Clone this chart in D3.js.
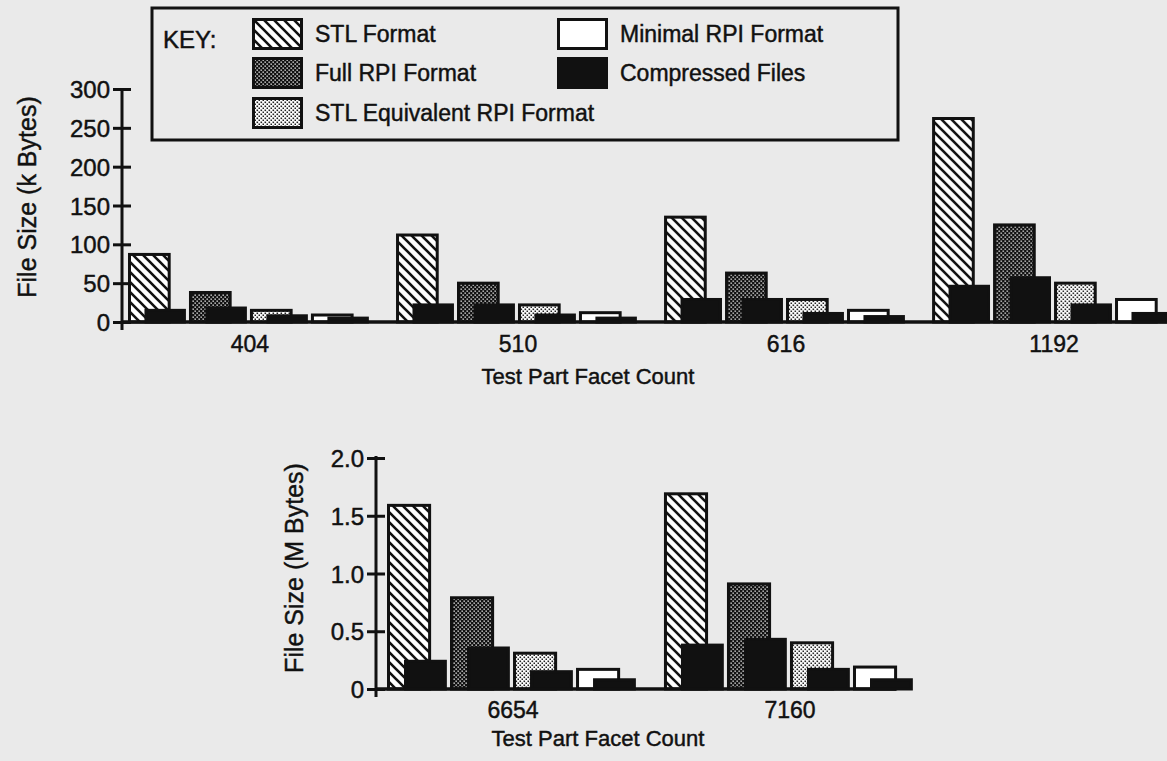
<!DOCTYPE html>
<html>
<head>
<meta charset="utf-8">
<script src="https://cdn.jsdelivr.net/npm/d3@7"></script>
<style>
  body { margin: 0; background: #eaeaea; }
  svg { display: block; font-family: 'Liberation Sans', Arial, Helvetica, sans-serif; fill: #111; }
  svg text { stroke: #111; stroke-width: 0.45px; }
</style>
</head>
<body>
<div id="chart"></div>
<script>
const formats = ['STL Format', 'Full RPI Format', 'STL Equivalent RPI Format', 'Minimal RPI Format'];
const compressedLabel = 'Compressed Files';

// smaller test parts, k Bytes
const smallCounts = ['404', '510', '616', '1192'];
const smallStl = [87, 112, 135, 262];
const smallFull = [38, 50, 63, 125];
const smallEquiv = [15, 22, 29, 50];
const smallMinimal = [9, 12, 15, 29];
const smallStlZip = [15, 22, 29, 46];
const smallFullZip = [18, 22, 29, 57];
const smallEquivZip = [8, 9, 11, 22];
const smallMinimalZip = [5, 5, 7, 11];
const smallTicks = [0, 50, 100, 150, 200, 250, 300];

// larger test parts, M Bytes
const largeCounts = ['6654', '7160'];
const largeStl = [1.59, 1.69];
const largeFull = [0.79, 0.91];
const largeEquiv = [0.31, 0.40];
const largeMinimal = [0.17, 0.19];
const largeStlZip = [0.24, 0.38];
const largeFullZip = [0.355, 0.43];
const largeEquivZip = [0.15, 0.17];
const largeMinimalZip = [0.08, 0.08];
const largeTicks = [0, 0.5, 1.0, 1.5, 2.0];

const ink = '#111';
const fills = ['url(#hatch)', 'url(#dense)', 'url(#light)', '#fff'];

const svg = d3.select('#chart')
    .append('svg')
    .attr('width', 1167)
    .attr('height', 761);

// fill patterns
const defs = svg.append('defs');

const hatch = defs.append('pattern')
    .attr('id', 'hatch')
    .attr('patternUnits', 'userSpaceOnUse')
    .attr('width', 10)
    .attr('height', 10);
hatch.append('rect').attr('width', 10).attr('height', 10).attr('fill', '#fff');
hatch.append('path')
    .attr('d', 'M-5,5L5,15M0,0L10,10M5,-5L15,5')
    .attr('stroke', ink)
    .attr('stroke-width', 2.6);

const dotPattern = (id, bg, dot, size) => {
    const p = defs.append('pattern')
        .attr('id', id)
        .attr('patternUnits', 'userSpaceOnUse')
        .attr('width', 4)
        .attr('height', 4);
    p.append('rect').attr('width', 4).attr('height', 4).attr('fill', bg);
    p.selectAll('.dot')
        .data([[0.5, 0.5], [2.5, 2.5]])
        .enter()
        .append('rect')
        .attr('x', d => d[0])
        .attr('y', d => d[1])
        .attr('width', size)
        .attr('height', size)
        .attr('fill', dot);
};
dotPattern('dense', '#111', '#fff', 1.3);
dotPattern('light', '#fff', '#222', 1.6);

const barChart = (props) => {
    const {
        categories,
        series,
        zips,
        ticks,
        yMax,
        tickFormat,
        xRange,
        yRange,
        axisX,
        axisTop,
        baselineEnd,
        yTitle,
        yTitlePos,
        labelY,
        title,
        titlePos
    } = props;

    const g = svg.append('g');

    const xScale = d3.scaleBand()
        .domain(categories)
        .range(xRange)
        .paddingInner(0.09)
        .paddingOuter(0)
        .align(0);

    const slot = d3.scaleBand()
        .domain(d3.range(series.length))
        .range([0, xScale.bandwidth()]);

    const yScale = d3.scaleLinear()
        .domain([0, yMax])
        .range(yRange);

    const s = slot.bandwidth();

    const groups = g.selectAll('.group')
        .data(categories)
        .enter()
        .append('g')
        .attr('class', 'group')
        .attr('transform', d => `translate(${xScale(d)}, 0)`);

    groups.each(function (cat, i) {
        const grp = d3.select(this);
        series.forEach((values, k) => {
            const v = values[i];
            const z = zips[k][i];
            grp.append('rect')
                .attr('x', slot(k) + 1.5)
                .attr('y', yScale(v))
                .attr('width', s * 0.7 - 3)
                .attr('height', yScale(0) - yScale(v))
                .attr('fill', fills[k])
                .attr('stroke', ink)
                .attr('stroke-width', 3);
            grp.append('rect')
                .attr('x', slot(k) + s * 0.27 + 1.5)
                .attr('y', yScale(z))
                .attr('width', s * 0.68 - 3)
                .attr('height', yScale(0) - yScale(z))
                .attr('fill', ink)
                .attr('stroke', ink)
                .attr('stroke-width', 3);
        });
    });

    // baseline
    g.append('line')
        .attr('x1', axisX)
        .attr('x2', baselineEnd)
        .attr('y1', yScale(0))
        .attr('y2', yScale(0))
        .attr('stroke', ink)
        .attr('stroke-width', 3.5);

    // y axis, ticks crossing the line
    const yAxisGroup = g.append('g')
        .attr('transform', `translate(${axisX}, 0)`)
        .call(d3.axisLeft(yScale)
            .tickValues(ticks)
            .tickSize(9)
            .tickPadding(3)
            .tickFormat(tickFormat));
    yAxisGroup.select('.domain').remove();
    yAxisGroup.selectAll('.tick line')
        .attr('x1', 9)
        .attr('stroke', ink)
        .attr('stroke-width', 3);
    yAxisGroup.selectAll('.tick text')
        .attr('fill', ink)
        .style('font-size', '24px')
        .attr('dy', '0.36em');
    yAxisGroup.append('line')
        .attr('y1', axisTop)
        .attr('y2', yScale(0) + 8)
        .attr('stroke', ink)
        .attr('stroke-width', 3);

    // category labels
    const xAxisGroup = g.append('g')
        .attr('transform', `translate(0, ${labelY})`)
        .call(d3.axisBottom(xScale).tickSize(0).tickPadding(0));
    xAxisGroup.select('.domain').remove();
    xAxisGroup.selectAll('.tick text')
        .attr('fill', ink)
        .attr('dy', 0)
        .style('font-size', '23px');

    g.append('text')
        .attr('x', titlePos[0])
        .attr('y', titlePos[1])
        .attr('text-anchor', 'middle')
        .style('font-size', '22px')
        .text(title);

    g.append('text')
        .attr('transform', `translate(${yTitlePos[0]}, ${yTitlePos[1]}) rotate(-90)`)
        .attr('text-anchor', 'middle')
        .style('font-size', '25px')
        .text(yTitle);
};

barChart({
    categories: smallCounts,
    series: [smallStl, smallFull, smallEquiv, smallMinimal],
    zips: [smallStlZip, smallFullZip, smallEquivZip, smallMinimalZip],
    ticks: smallTicks,
    yMax: 300,
    tickFormat: d => d,
    xRange: [128, 1176],
    yRange: [322, 89],
    axisX: 122,
    axisTop: 88,
    baselineEnd: 1167,
    yTitle: 'File Size (k Bytes)',
    yTitlePos: [36, 197],
    labelY: 352,
    title: 'Test Part Facet Count',
    titlePos: [588, 384]
});

barChart({
    categories: largeCounts,
    series: [largeStl, largeFull, largeEquiv, largeMinimal],
    zips: [largeStlZip, largeFullZip, largeEquivZip, largeMinimalZip],
    ticks: largeTicks,
    yMax: 2,
    tickFormat: d => (d === 0 ? '0' : d3.format('.1f')(d)),
    xRange: [387, 916],
    yRange: [689, 458],
    axisX: 376,
    axisTop: 456,
    baselineEnd: 896,
    yTitle: 'File Size (M Bytes)',
    yTitlePos: [303, 568],
    labelY: 718,
    title: 'Test Part Facet Count',
    titlePos: [598, 746]
});

// key box
const legend = svg.append('g');
legend.append('rect')
    .attr('x', 152)
    .attr('y', 8)
    .attr('width', 746)
    .attr('height', 132)
    .attr('fill', 'none')
    .attr('stroke', ink)
    .attr('stroke-width', 3);
legend.append('text')
    .attr('x', 163)
    .attr('y', 48)
    .style('font-size', '24px')
    .text('KEY:');

const legendItems = formats.concat([compressedLabel]);
const legendFills = fills.concat([ink]);
const legendCols = [252, 557];
const legendRows = [18, 57, 97];

legendItems.forEach((label, i) => {
    const col = i < 3 ? 0 : 1;
    const row = i < 3 ? i : i - 3;
    const item = legend.append('g')
        .attr('transform', `translate(${legendCols[col]}, ${legendRows[row]})`);
    item.append('rect')
        .attr('x', 1.5)
        .attr('y', 1.5)
        .attr('width', 48)
        .attr('height', 29)
        .attr('fill', legendFills[i])
        .attr('stroke', ink)
        .attr('stroke-width', 3);
    item.append('text')
        .attr('x', 63)
        .attr('y', 24)
        .style('font-size', '23px')
        .text(label);
});
</script>
</body>
</html>
